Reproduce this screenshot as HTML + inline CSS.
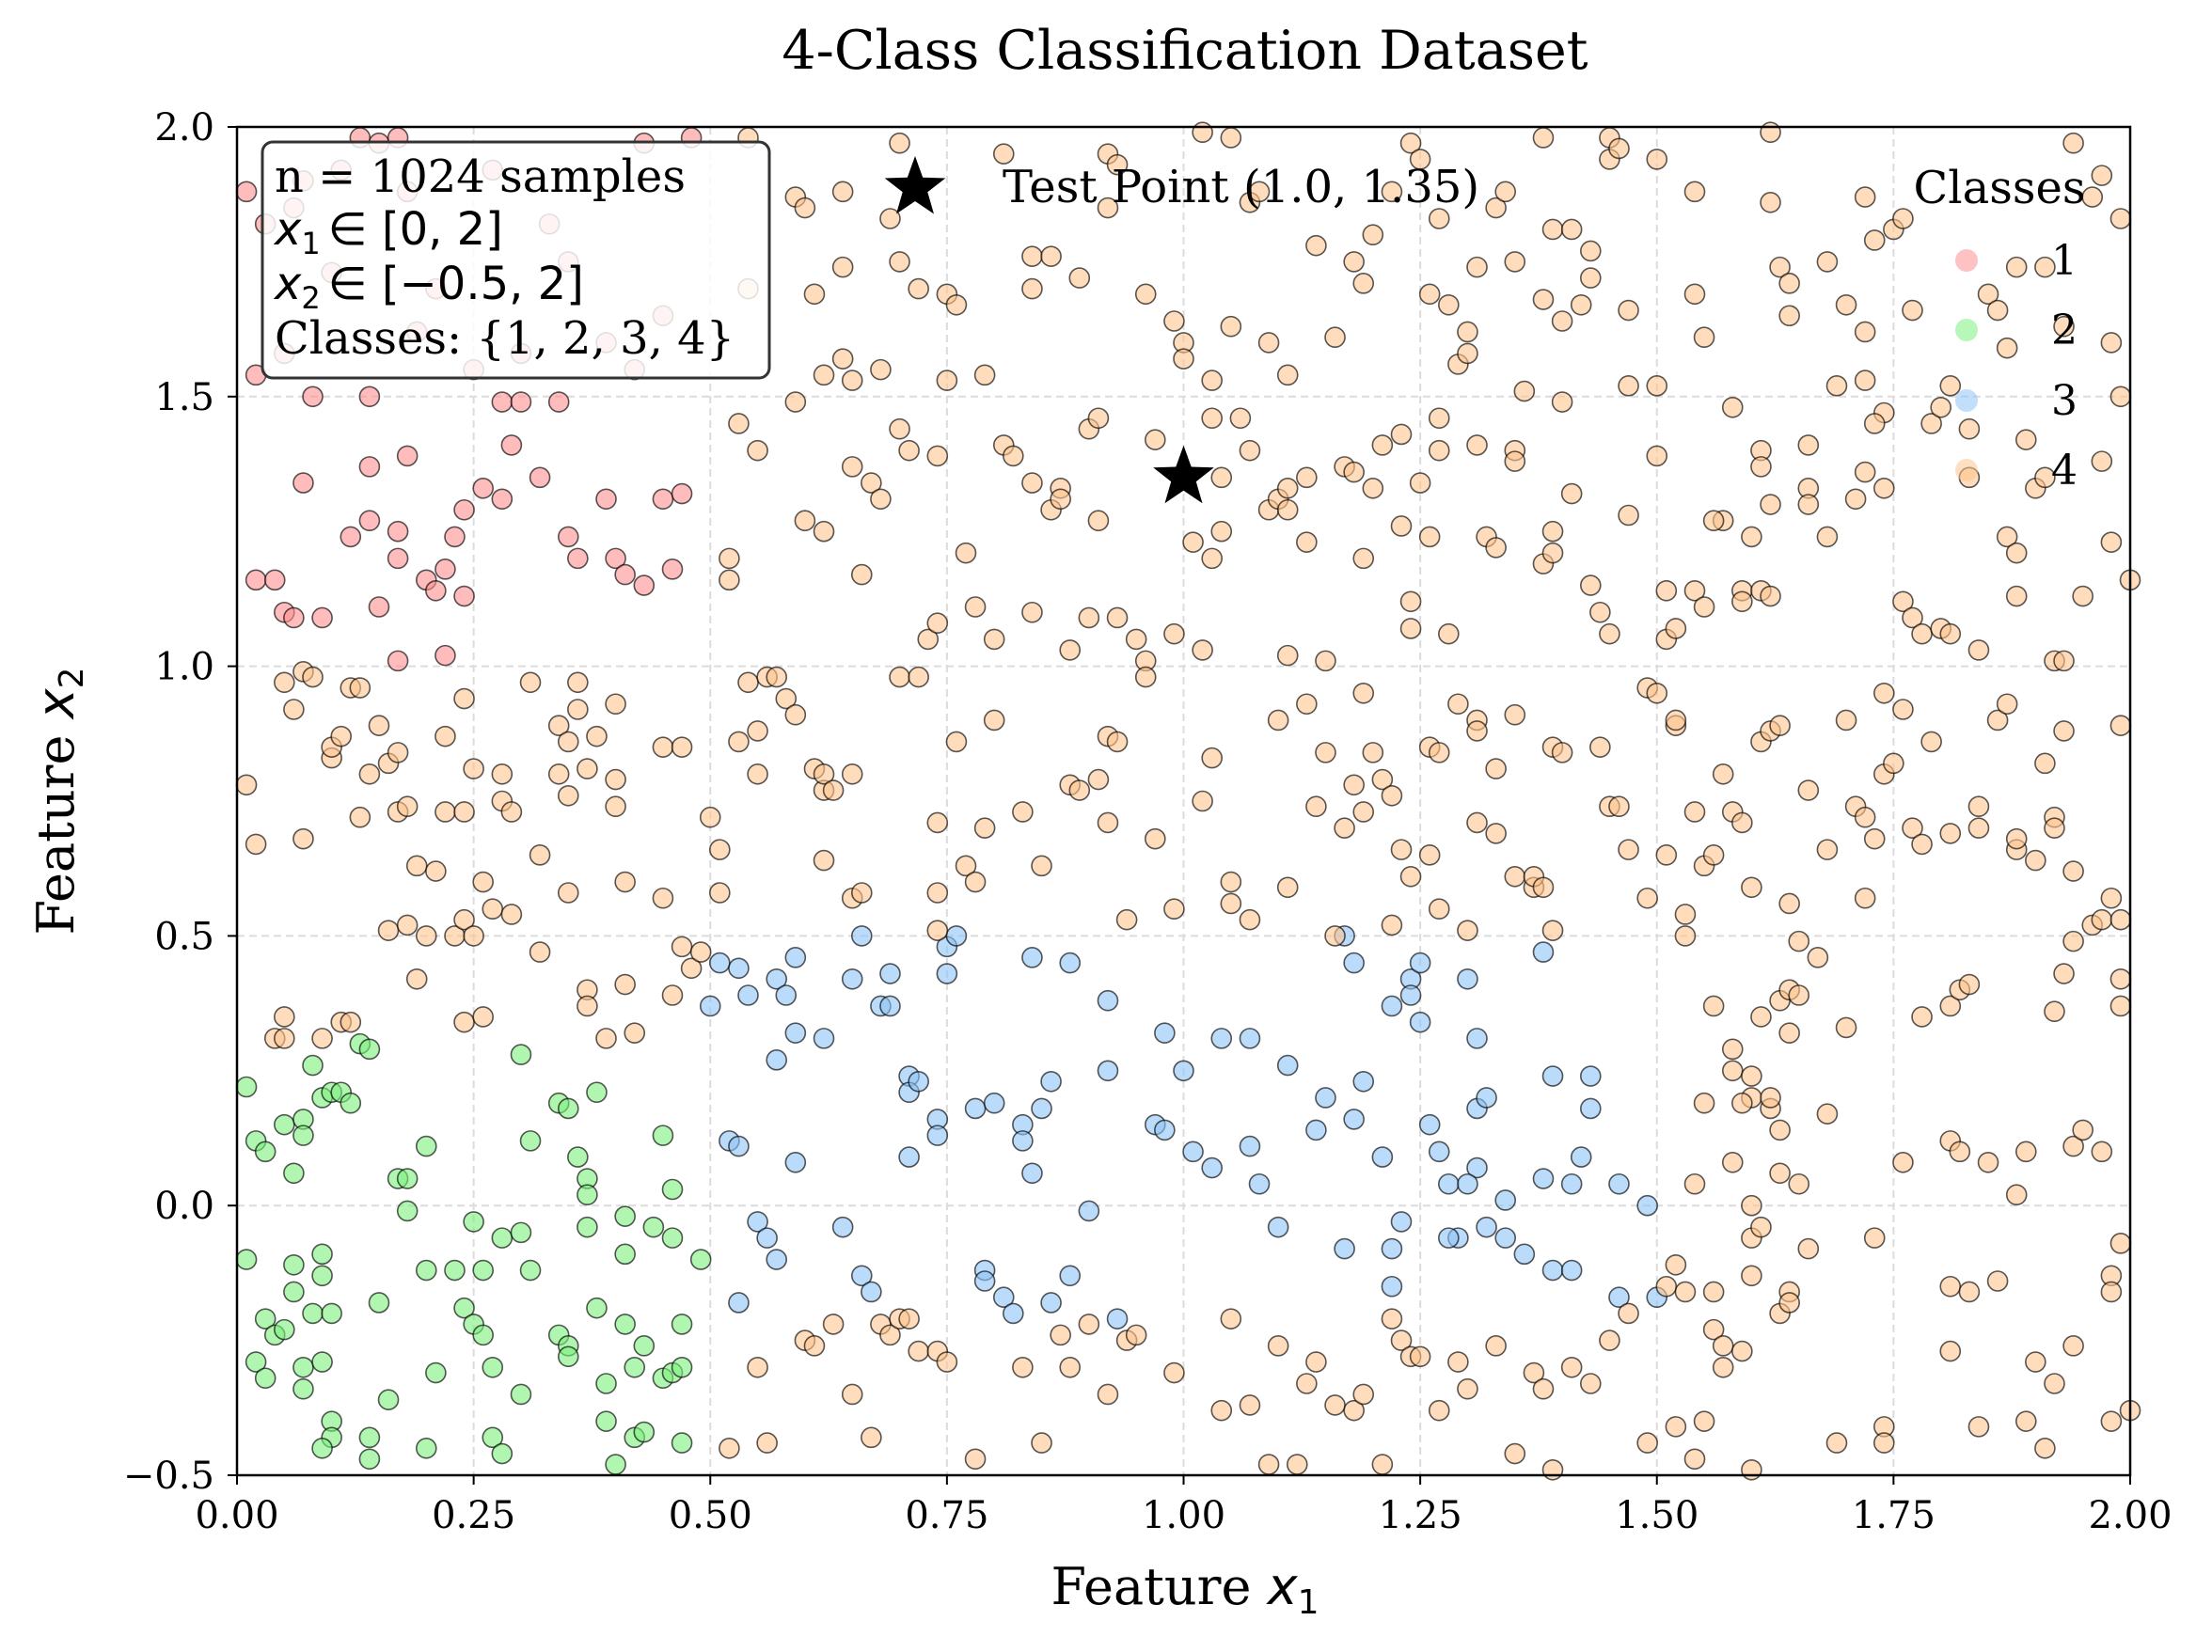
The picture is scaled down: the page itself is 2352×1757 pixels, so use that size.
<!DOCTYPE html>
<html><head><meta charset="utf-8"><style>
html,body{margin:0;padding:0;background:#fff;}
svg text{font-family:"DejaVu Serif","Liberation Serif",serif;}
</style></head><body>
<svg id="chart" width="2352" height="1752" viewBox="0 0 2352 1752" xmlns="http://www.w3.org/2000/svg">
<rect width="2352" height="1752" fill="#fff"/>
<text x="1260" y="73" font-size="57" text-anchor="middle">4-Class Classification Dataset</text>
<g id="grid"></g>
<g id="points"></g>
<g id="axes"></g>
</svg>
<script>
const xTicks=[0,0.25,0.5,0.75,1.0,1.25,1.5,1.75,2.0];
const xTickLabels=["0.00","0.25","0.50","0.75","1.00","1.25","1.50","1.75","2.00"];
const yTicks=[-0.5,0,0.5,1.0,1.5,2.0];
const yTickLabels=["\u22120.5","0.0","0.5","1.0","1.5","2.0"];
const classNames=["1","2","3","4"];
const testPoint=[1.0,1.35];
const class1=[[0.01,1.88],[0.02,1.54],[0.05,1.58],[0.07,1.34],[0.08,1.50],[0.12,1.24],[0.14,1.37],[0.14,1.27],[0.15,1.11],[0.17,1.25],[0.17,1.20],[0.18,1.39],[0.17,1.01],[0.20,1.16],[0.21,1.14],[0.22,1.18],[0.23,1.24],[0.24,1.29],[0.26,1.33],[0.28,1.31],[0.28,1.49],[0.29,1.41],[0.32,1.35],[0.34,1.49],[0.35,1.24],[0.36,1.20],[0.39,1.31],[0.40,1.20],[0.41,1.17],[0.43,1.15],[0.45,1.31],[0.46,1.18],[0.47,1.32],[0.02,1.16],[0.04,1.16],[0.05,1.10],[0.06,1.09],[0.09,1.09],[0.22,1.02],[0.24,1.13],[0.13,1.98],[0.15,1.97],[0.17,1.98],[0.11,1.92],[0.07,1.90],[0.03,1.82],[0.18,1.88],[0.25,1.55],[0.30,1.58],[0.42,1.55],[0.48,1.98],[0.43,1.97],[0.21,1.70],[0.35,1.75],[0.39,1.60],[0.10,1.73],[0.06,1.85],[0.14,1.50],[0.30,1.49],[0.27,1.92],[0.33,1.82],[0.45,1.65],[0.19,1.62]];
const class2=[[0.01,0.22],[0.02,0.12],[0.03,0.10],[0.05,0.15],[0.07,0.16],[0.08,0.26],[0.07,0.13],[0.09,0.20],[0.10,0.21],[0.11,0.21],[0.12,0.19],[0.13,0.30],[0.14,0.29],[0.06,0.06],[0.01,-0.10],[0.03,-0.21],[0.04,-0.24],[0.05,-0.23],[0.06,-0.11],[0.06,-0.16],[0.08,-0.20],[0.09,-0.13],[0.09,-0.09],[0.10,-0.20],[0.02,-0.29],[0.03,-0.32],[0.07,-0.30],[0.09,-0.29],[0.07,-0.34],[0.10,-0.40],[0.10,-0.43],[0.09,-0.45],[0.14,-0.43],[0.14,-0.47],[0.16,-0.36],[0.15,-0.18],[0.17,0.05],[0.18,-0.01],[0.18,0.05],[0.20,0.11],[0.20,-0.12],[0.21,-0.31],[0.20,-0.45],[0.23,-0.12],[0.24,-0.19],[0.25,-0.03],[0.25,-0.22],[0.26,-0.12],[0.26,-0.24],[0.27,-0.30],[0.27,-0.43],[0.28,-0.46],[0.28,-0.06],[0.30,-0.05],[0.30,-0.35],[0.31,-0.12],[0.31,0.12],[0.30,0.28],[0.34,0.19],[0.35,0.18],[0.36,0.09],[0.37,0.05],[0.37,0.02],[0.38,0.21],[0.34,-0.24],[0.35,-0.26],[0.35,-0.28],[0.37,-0.04],[0.38,-0.19],[0.39,-0.40],[0.39,-0.33],[0.40,-0.48],[0.41,-0.22],[0.41,-0.09],[0.41,-0.02],[0.42,-0.43],[0.43,-0.42],[0.43,-0.26],[0.44,-0.04],[0.45,0.13],[0.45,-0.32],[0.46,0.03],[0.46,-0.06],[0.46,-0.31],[0.47,-0.44],[0.47,-0.22],[0.49,-0.10],[0.47,-0.30],[0.42,-0.30]];
const class3=[[0.50,0.37],[0.51,0.45],[0.53,0.44],[0.54,0.39],[0.52,0.12],[0.53,0.11],[0.53,-0.18],[0.55,-0.03],[0.56,-0.06],[0.57,0.42],[0.57,0.27],[0.58,0.39],[0.59,0.32],[0.59,0.46],[0.59,0.08],[0.57,-0.10],[0.62,0.31],[0.64,-0.04],[0.65,0.42],[0.66,0.50],[0.66,-0.13],[0.67,-0.16],[0.68,0.37],[0.69,0.43],[0.69,0.37],[0.71,0.24],[0.71,0.21],[0.72,0.23],[0.71,0.09],[0.74,0.16],[0.74,0.13],[0.75,0.48],[0.75,0.43],[0.76,0.50],[0.78,0.18],[0.80,0.19],[0.79,-0.12],[0.79,-0.14],[0.81,-0.17],[0.82,-0.20],[0.83,0.15],[0.83,0.12],[0.84,0.46],[0.84,0.06],[0.85,0.18],[0.86,-0.18],[0.86,0.23],[0.88,0.45],[0.88,-0.13],[0.90,-0.01],[0.92,0.38],[0.92,0.25],[0.93,-0.21],[0.97,0.15],[0.98,0.14],[0.98,0.32],[1.00,0.25],[1.01,0.10],[1.03,0.07],[1.04,0.31],[1.07,0.11],[1.08,0.04],[1.07,0.31],[1.11,0.26],[1.10,-0.04],[1.14,0.14],[1.15,0.20],[1.17,0.50],[1.17,-0.08],[1.18,0.45],[1.18,0.16],[1.19,0.23],[1.21,0.09],[1.22,0.37],[1.22,-0.08],[1.22,-0.15],[1.23,-0.03],[1.24,0.42],[1.24,0.39],[1.25,0.45],[1.25,0.34],[1.26,0.15],[1.27,0.10],[1.28,0.04],[1.30,0.42],[1.31,0.31],[1.31,0.18],[1.31,0.07],[1.30,0.04],[1.29,-0.06],[1.32,-0.04],[1.32,0.20],[1.34,0.01],[1.36,-0.09],[1.38,0.47],[1.38,0.05],[1.39,0.24],[1.39,-0.12],[1.41,0.04],[1.41,-0.12],[1.42,0.09],[1.43,0.18],[1.43,0.24],[1.46,0.04],[1.46,-0.17],[1.49,0.00],[1.50,-0.17],[1.34,-0.06],[1.28,-0.06]];
const class4=[[0.54,1.98],[0.54,1.70],[0.59,1.87],[0.60,1.85],[0.61,1.69],[0.64,1.88],[0.64,1.74],[0.70,1.97],[0.69,1.83],[0.70,1.75],[0.72,1.70],[0.75,1.69],[0.76,1.67],[0.81,1.95],[0.84,1.76],[0.84,1.70],[0.86,1.76],[0.89,1.72],[0.92,1.95],[0.93,1.93],[0.92,1.85],[0.96,1.69],[0.99,1.64],[1.00,1.60],[1.00,1.57],[1.02,1.99],[1.03,1.53],[1.05,1.63],[1.05,1.98],[1.07,1.86],[1.08,1.88],[1.09,1.60],[1.11,1.54],[1.14,1.78],[1.16,1.61],[1.18,1.75],[1.19,1.71],[1.20,1.80],[1.22,1.88],[1.24,1.97],[1.25,1.94],[1.26,1.69],[1.27,1.83],[1.28,1.67],[1.29,1.56],[1.30,1.62],[1.30,1.58],[1.31,1.74],[1.33,1.85],[1.34,1.88],[1.35,1.75],[1.36,1.51],[1.38,1.98],[1.38,1.68],[1.39,1.81],[1.40,1.64],[1.40,1.49],[1.41,1.81],[1.42,1.67],[1.43,1.77],[1.43,1.72],[1.45,1.98],[1.45,1.94],[1.46,1.96],[1.47,1.66],[1.47,1.52],[1.50,1.94],[1.50,1.52],[1.54,1.88],[1.54,1.69],[1.55,1.61],[1.57,1.27],[1.58,1.48],[1.61,1.40],[1.62,1.99],[1.62,1.86],[1.63,1.74],[1.64,1.71],[1.64,1.65],[1.66,1.33],[1.68,1.75],[1.69,1.52],[1.70,1.67],[1.72,1.87],[1.72,1.62],[1.72,1.53],[1.73,1.79],[1.74,1.47],[1.75,1.81],[1.76,1.83],[1.77,1.66],[1.79,1.45],[1.80,1.48],[1.81,1.52],[1.83,1.44],[1.85,1.69],[1.86,1.66],[1.87,1.59],[1.88,1.74],[1.89,1.42],[1.91,1.74],[1.93,1.63],[1.94,1.97],[1.96,1.87],[1.97,1.91],[1.98,1.60],[1.99,1.83],[1.99,1.50],
[0.52,1.20],[0.52,1.16],[0.53,1.45],[0.55,1.40],[0.59,1.49],[0.60,1.27],[0.62,1.54],[0.62,1.25],[0.64,1.57],[0.65,1.53],[0.65,1.37],[0.66,1.17],[0.67,1.34],[0.68,1.31],[0.68,1.55],[0.70,1.44],[0.71,1.40],[0.73,1.05],[0.74,1.39],[0.74,1.08],[0.75,1.53],[0.77,1.21],[0.78,1.11],[0.79,1.54],[0.80,1.05],[0.81,1.41],[0.82,1.39],[0.84,1.34],[0.84,1.10],[0.86,1.29],[0.87,1.33],[0.87,1.31],[0.88,1.03],[0.90,1.44],[0.90,1.09],[0.91,1.46],[0.91,1.27],[0.93,1.09],[0.95,1.05],[0.96,1.01],[0.97,1.42],[0.99,1.06],[1.01,1.23],[1.02,1.03],[1.03,1.46],[1.03,1.20],[1.04,1.35],[1.04,1.25],[1.06,1.46],[1.07,1.40],[1.09,1.29],[1.10,1.31],[1.11,1.33],[1.11,1.29],[1.11,1.02],[1.13,1.35],[1.13,1.23],[1.15,1.01],[1.17,1.37],[1.18,1.36],[1.19,1.20],[1.20,1.33],[1.21,1.41],[1.23,1.43],[1.23,1.26],[1.24,1.12],[1.24,1.07],[1.25,1.34],[1.26,1.24],[1.27,1.46],[1.27,1.40],[1.28,1.06],[1.31,1.41],[1.32,1.24],[1.33,1.22],[1.35,1.40],[1.35,1.38],[1.38,1.19],[1.39,1.21],[1.39,1.25],[1.41,1.32],[1.43,1.15],[1.44,1.10],[1.45,1.06],[1.47,1.28],[1.50,1.39],[1.51,1.14],[1.51,1.05],[1.52,1.07],[1.54,1.14],[1.55,1.11],[1.56,1.27],[1.59,1.14],[1.59,1.12],[1.60,1.24],[1.61,1.14],[1.61,1.37],[1.62,1.30],[1.62,1.13],[1.66,1.41],[1.66,1.30],[1.68,1.24],[1.71,1.31],[1.72,1.36],[1.73,1.45],[1.74,1.33],[1.76,1.12],[1.77,1.09],[1.78,1.06],[1.80,1.07],[1.81,1.06],[1.83,1.35],[1.84,1.03],[1.87,1.24],[1.88,1.21],[1.88,1.13],[1.90,1.33],[1.91,1.35],[1.92,1.01],[1.93,1.01],[1.95,1.13],[1.97,1.38],[1.98,1.23],[2.00,1.16],
[0.01,0.78],[0.02,0.67],[0.05,0.97],[0.06,0.92],[0.07,0.99],[0.08,0.98],[0.07,0.68],[0.10,0.83],[0.10,0.85],[0.11,0.87],[0.12,0.96],[0.13,0.96],[0.14,0.80],[0.13,0.72],[0.15,0.89],[0.16,0.82],[0.17,0.73],[0.17,0.84],[0.18,0.74],[0.19,0.42],[0.16,0.51],[0.18,0.52],[0.19,0.63],[0.20,0.50],[0.21,0.62],[0.22,0.87],[0.22,0.73],[0.23,0.50],[0.24,0.53],[0.24,0.73],[0.24,0.94],[0.25,0.81],[0.26,0.60],[0.25,0.50],[0.27,0.55],[0.28,0.80],[0.28,0.75],[0.29,0.73],[0.29,0.54],[0.31,0.97],[0.32,0.65],[0.32,0.47],[0.34,0.89],[0.34,0.80],[0.35,0.86],[0.35,0.76],[0.35,0.58],[0.36,0.97],[0.36,0.92],[0.37,0.81],[0.37,0.40],[0.37,0.37],[0.38,0.87],[0.39,0.31],[0.40,0.93],[0.40,0.79],[0.40,0.74],[0.41,0.60],[0.41,0.41],[0.42,0.32],[0.45,0.85],[0.45,0.57],[0.46,0.39],[0.47,0.48],[0.47,0.85],[0.48,0.44],[0.49,0.47],[0.50,0.72],[0.51,0.66],[0.51,0.58],[0.04,0.31],[0.05,0.31],[0.05,0.35],[0.09,0.31],[0.11,0.34],[0.12,0.34],[0.24,0.34],[0.26,0.35],
[0.53,0.86],[0.54,0.97],[0.55,0.88],[0.55,0.80],[0.56,0.98],[0.57,0.98],[0.58,0.94],[0.59,0.91],[0.61,0.81],[0.62,0.77],[0.62,0.80],[0.63,0.77],[0.62,0.64],[0.65,0.80],[0.65,0.57],[0.66,0.58],[0.70,0.98],[0.72,0.98],[0.74,0.71],[0.74,0.58],[0.74,0.51],[0.76,0.86],[0.77,0.63],[0.78,0.60],[0.79,0.70],[0.80,0.90],[0.83,0.73],[0.85,0.63],[0.88,0.78],[0.89,0.77],[0.91,0.79],[0.92,0.87],[0.92,0.71],[0.93,0.86],[0.94,0.53],[0.96,0.98],[0.97,0.68],[0.99,0.55],[1.02,0.75],[1.03,0.83],[1.05,0.60],[1.05,0.56],[1.07,0.53],[1.10,0.90],[1.11,0.59],[1.13,0.93],[1.14,0.74],[1.15,0.84],[1.16,0.50],[1.17,0.70],[1.18,0.78],[1.19,0.73],[1.19,0.95],[1.20,0.84],[1.21,0.79],[1.22,0.76],[1.22,0.52],[1.23,0.66],[1.24,0.61],[1.26,0.65],[1.26,0.85],[1.27,0.84],[1.27,0.55],[1.29,0.93],[1.30,0.51],[1.31,0.90],[1.31,0.71],[1.31,0.88],[1.33,0.81],[1.33,0.69],[1.35,0.61],[1.35,0.91],[1.37,0.59],[1.37,0.61],[1.38,0.59],[1.39,0.85],[1.39,0.51],[1.40,0.84],[1.44,0.85],[1.45,0.74],[1.46,0.74],[1.47,0.66],[1.49,0.57],[1.49,0.96],[1.50,0.95],[1.51,0.65],[1.52,0.89],
[1.52,0.90],[1.53,0.50],[1.53,0.54],[1.54,0.73],[1.55,0.63],[1.56,0.65],[1.57,0.80],[1.58,0.73],[1.59,0.71],[1.60,0.59],[1.61,0.86],[1.62,0.88],[1.63,0.89],[1.64,0.56],[1.65,0.49],[1.66,0.77],[1.67,0.46],[1.68,0.66],[1.70,0.90],[1.71,0.74],[1.72,0.72],[1.72,0.57],[1.73,0.68],[1.74,0.95],[1.74,0.80],[1.75,0.82],[1.76,0.92],[1.77,0.70],[1.78,0.67],[1.79,0.86],[1.81,0.69],[1.84,0.74],[1.84,0.70],[1.86,0.90],[1.87,0.93],[1.88,0.66],[1.88,0.68],[1.90,0.64],[1.91,0.82],[1.92,0.72],[1.92,0.70],[1.93,0.88],[1.94,0.62],[1.96,0.52],[1.97,0.53],[1.98,0.57],[1.99,0.53],[1.99,0.89],[1.61,0.35],[1.63,0.38],[1.64,0.40],[1.56,0.37],[1.58,0.29],[1.58,0.25],[1.60,0.24],[1.60,0.20],[1.62,0.18],[1.64,0.32],[1.65,0.39],[1.70,0.33],[1.78,0.35],[1.81,0.37],[1.82,0.40],[1.83,0.41],[1.92,0.36],[1.93,0.43],[1.94,0.49],[1.99,0.42],[1.99,0.37],
[1.52,-0.11],[1.51,-0.15],[1.53,-0.16],[1.54,0.04],[1.55,0.19],[1.56,-0.16],[1.56,-0.23],[1.57,-0.26],[1.58,0.08],[1.59,0.19],[1.60,-0.13],[1.60,0.00],[1.60,-0.06],[1.61,-0.04],[1.62,0.20],[1.63,0.06],[1.63,0.14],[1.63,-0.20],[1.64,-0.16],[1.64,-0.18],[1.65,0.04],[1.66,-0.08],[1.68,0.17],[1.69,-0.44],[1.73,-0.06],[1.74,-0.41],[1.74,-0.44],[1.76,0.08],[1.81,0.12],[1.81,-0.15],[1.81,-0.27],[1.82,0.10],[1.83,-0.16],[1.84,-0.41],[1.85,0.08],[1.86,-0.14],[1.88,0.02],[1.89,0.10],[1.89,-0.40],[1.90,-0.29],[1.91,-0.45],[1.92,-0.33],[1.94,0.11],[1.95,0.14],[1.94,-0.26],[1.97,0.10],[1.98,-0.13],[1.98,-0.16],[1.99,-0.07],[2.00,-0.38],[1.98,-0.40],[1.52,-0.41],[1.54,-0.47],[1.55,-0.40],[1.57,-0.30],[1.59,-0.27],[1.60,-0.49],
[0.52,-0.45],[0.55,-0.30],[0.56,-0.44],[0.60,-0.25],[0.61,-0.26],[0.63,-0.22],[0.65,-0.35],[0.67,-0.43],[0.68,-0.22],[0.69,-0.24],[0.70,-0.21],[0.71,-0.21],[0.72,-0.27],[0.74,-0.27],[0.75,-0.29],[0.78,-0.47],[0.83,-0.30],[0.85,-0.44],[0.87,-0.24],[0.88,-0.30],[0.90,-0.22],[0.92,-0.35],[0.94,-0.25],[0.95,-0.24],[0.99,-0.31],[1.04,-0.38],[1.05,-0.21],[1.07,-0.37],[1.09,-0.48],[1.10,-0.26],[1.12,-0.48],[1.13,-0.33],[1.14,-0.29],[1.16,-0.37],[1.18,-0.38],[1.19,-0.35],[1.21,-0.48],[1.22,-0.21],[1.23,-0.25],[1.24,-0.28],[1.25,-0.28],[1.27,-0.38],[1.29,-0.29],[1.30,-0.34],[1.33,-0.26],[1.35,-0.46],[1.37,-0.31],[1.38,-0.34],[1.39,-0.49],[1.41,-0.30],[1.43,-0.33],[1.45,-0.25],[1.47,-0.20],[1.49,-0.44]];

const NS="http://www.w3.org/2000/svg";
const L=252,R=2265,T=135,B=1569;
function sx(v){return L+(v-0)/(2-0)*(R-L);}
function sy(v){return B-(v-(-0.5))/(2-(-0.5))*(B-T);}
function mk(tag,attrs,parent){const e=document.createElementNS(NS,tag);for(const k in attrs)e.setAttribute(k,attrs[k]);parent.appendChild(e);return e;}
const grid=document.getElementById('grid'),pts=document.getElementById('points'),axes=document.getElementById('axes');
xTicks.forEach((t,i)=>{
  const gl=mk('line',{x1:sx(t),x2:sx(t),y1:T,y2:B,stroke:'#dcdcdc','stroke-width':2,'stroke-dasharray':'8,5'},grid);
  
  
  const tk=mk('line',{x1:sx(t),x2:sx(t),y1:B,y2:B+10,stroke:'#000','stroke-width':2},axes);
  
  
  const tl=mk('text',{x:sx(t),y:B+56,'font-size':40,'text-anchor':'middle'},axes);
  tl.textContent=xTickLabels[i];
  
  
});
yTicks.forEach((t,i)=>{
  const gl=mk('line',{x1:L,x2:R,y1:sy(t),y2:sy(t),stroke:'#dcdcdc','stroke-width':2,'stroke-dasharray':'8,5'},grid);
  
  
  const tk=mk('line',{x1:L-10,x2:L,y1:sy(t),y2:sy(t),stroke:'#000','stroke-width':2},axes);
  
  
  const tl=mk('text',{x:L-24,y:sy(t)+14,'font-size':40,'text-anchor':'end'},axes);
  tl.textContent=yTickLabels[i];
  
  
});
const classData=[class1,class2,class3,class4];
const fills=['#ff8f8f','#7bf07b','#8ec3f7','#ffc48e'];
classData.forEach((arr,ci)=>{
  arr.forEach(p=>{
    const c=mk('circle',{cx:sx(p[0]),cy:sy(p[1]),r:10.5,fill:fills[ci],'fill-opacity':0.6,stroke:'#000','stroke-opacity':0.65,'stroke-width':1.6},pts);
    
    
  });
});
function starPath(cx,cy,ro,ri){let d='';for(let i=0;i<10;i++){const r=i%2?ri:ro;const a=-Math.PI/2+i*Math.PI/5;d+=(i?'L':'M')+(cx+r*Math.cos(a)).toFixed(1)+','+(cy+r*Math.sin(a)).toFixed(1);}return d+'Z';}
const star=mk('path',{d:starPath(sx(testPoint[0]),sy(testPoint[1]),34,14),fill:'#000'},pts);


const frame=mk('rect',{x:L,y:T,width:R-L,height:B-T,fill:'none',stroke:'#000','stroke-width':2.5},axes);


const box=mk('rect',{x:279,y:151,width:539,height:251,rx:11,fill:'#fff','fill-opacity':0.82,stroke:'#333','stroke-width':3},axes);


const infoLines=[['n = 1024 samples',null],['x','1','\u2208 [0, 2]'],['x','2','\u2208 [\u22120.5, 2]'],['Classes: {1, 2, 3, 4}',null]];
const infoY=[204,260,318,376];
infoLines.forEach((ln,i)=>{
  const t=mk('text',{x:292,y:infoY[i],'font-size':48},axes);
  
  
  if(ln[1]===null){t.textContent=ln[0];}
  else{
    const a=mk('tspan',{'font-style':'italic','font-family':'"DejaVu Sans",sans-serif'},t);a.textContent=ln[0];
    const b=mk('tspan',{'font-size':32,dy:10,'font-family':'"DejaVu Sans",sans-serif'},t);b.textContent=ln[1];
    const c=mk('tspan',{dy:-10,dx:8,'font-family':'"DejaVu Sans",sans-serif'},t);c.textContent=ln[2];
  }
});
const ls=mk('path',{d:starPath(973,200,34,14),fill:'#000'},axes);


const lt=mk('text',{x:1066,y:215,'font-size':48},axes);
lt.textContent='Test Point (1.0, 1.35)';


const lgT=mk('text',{x:2126,y:216,'font-size':48,'text-anchor':'middle'},axes);
lgT.textContent='Classes';


const legY=[277,351,426,500];
classNames.forEach((n,i)=>{
  const c=mk('circle',{cx:2091,cy:legY[i],r:12,fill:fills[i],'fill-opacity':0.55},axes);
  
  
  const t=mk('text',{x:2195,y:legY[i]+15,'font-size':44,'text-anchor':'middle'},axes);
  t.textContent=n;
  
  
});
const xl=mk('text',{x:1260,y:1706,'font-size':54,'text-anchor':'middle'},axes);


xl.appendChild(document.createTextNode('Feature '));
const xi=mk('tspan',{'font-style':'italic','font-family':'"DejaVu Sans",sans-serif'},xl);xi.textContent='x';
const xs=mk('tspan',{'font-size':36,dy:10,'font-family':'"DejaVu Sans",sans-serif'},xl);xs.textContent='1';
const yl=mk('text',{x:0,y:0,'font-size':54,'text-anchor':'middle',transform:'translate(78,852) rotate(-90)'},axes);


yl.appendChild(document.createTextNode('Feature '));
const yi=mk('tspan',{'font-style':'italic','font-family':'"DejaVu Sans",sans-serif'},yl);yi.textContent='x';
const ys=mk('tspan',{'font-size':36,dy:10,'font-family':'"DejaVu Sans",sans-serif'},yl);ys.textContent='2';
</script>
</body></html>
